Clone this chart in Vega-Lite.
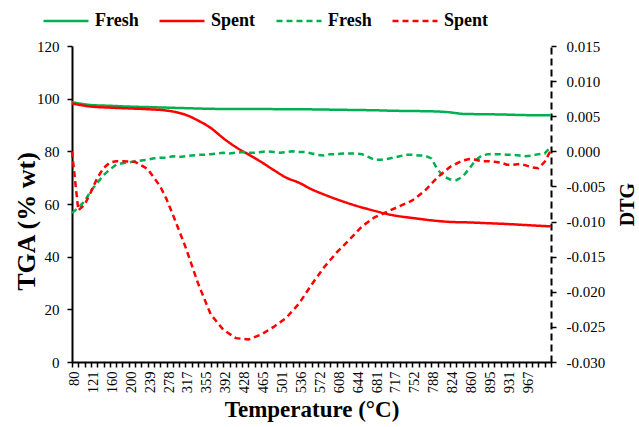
{
  "$schema": "https://vega.github.io/schema/vega-lite/v6.json",
  "autosize": {"type": "none"},
  "padding": {"left": 72, "top": 46, "right": 88, "bottom": 65},
  "width": 479,
  "height": 316,
  "background": "white",
  "config": {
    "view": {"stroke": null},
    "font": "Liberation Serif",
    "axis": {"grid": false, "domainColor": "black", "domainWidth": 2, "tickColor": "black", "tickWidth": 1.5, "tickSize": 5, "labelFont": "Liberation Serif", "labelColor": "black", "titleFont": "Liberation Serif", "titleColor": "black", "titleFontWeight": "bold", "titleFontSize": 22, "labelFontSize": 15}
  },
  "data": {"values": [
    {"s":"TGA Fresh","c":0,"v":98.7},{"s":"TGA Fresh","c":3,"v":97.6},{"s":"TGA Fresh","c":6,"v":97.3},{"s":"TGA Fresh","c":9,"v":97.0},{"s":"TGA Fresh","c":12,"v":96.8},{"s":"TGA Fresh","c":15,"v":96.6},{"s":"TGA Fresh","c":18,"v":96.4},{"s":"TGA Fresh","c":21,"v":96.2},{"s":"TGA Fresh","c":24,"v":96.1},{"s":"TGA Fresh","c":27,"v":96.1},{"s":"TGA Fresh","c":30,"v":96.1},{"s":"TGA Fresh","c":33,"v":96.0},{"s":"TGA Fresh","c":36,"v":96.0},{"s":"TGA Fresh","c":39,"v":95.9},{"s":"TGA Fresh","c":42,"v":95.8},{"s":"TGA Fresh","c":45,"v":95.7},{"s":"TGA Fresh","c":48,"v":95.6},{"s":"TGA Fresh","c":51,"v":95.4},{"s":"TGA Fresh","c":54,"v":95.3},{"s":"TGA Fresh","c":57,"v":95.2},{"s":"TGA Fresh","c":59,"v":95.0},{"s":"TGA Fresh","c":60,"v":94.8},{"s":"TGA Fresh","c":61,"v":94.5},{"s":"TGA Fresh","c":62,"v":94.2},{"s":"TGA Fresh","c":65,"v":94.1},{"s":"TGA Fresh","c":68,"v":94.0},{"s":"TGA Fresh","c":71,"v":93.8},{"s":"TGA Fresh","c":74,"v":93.7},{"s":"TGA Fresh","c":76,"v":93.7},
    {"s":"TGA Spent","c":0,"v":98.2},{"s":"TGA Spent","c":3,"v":97.0},{"s":"TGA Spent","c":6,"v":96.6},{"s":"TGA Spent","c":9,"v":96.3},{"s":"TGA Spent","c":12,"v":96.0},{"s":"TGA Spent","c":15,"v":95.5},{"s":"TGA Spent","c":17,"v":94.6},{"s":"TGA Spent","c":18,"v":93.9},{"s":"TGA Spent","c":20,"v":91.7},{"s":"TGA Spent","c":22,"v":88.9},{"s":"TGA Spent","c":24,"v":85.0},{"s":"TGA Spent","c":26,"v":81.6},{"s":"TGA Spent","c":28,"v":78.8},{"s":"TGA Spent","c":30,"v":76.0},{"s":"TGA Spent","c":32,"v":72.9},{"s":"TGA Spent","c":34,"v":70.0},{"s":"TGA Spent","c":36,"v":68.1},{"s":"TGA Spent","c":38,"v":65.6},{"s":"TGA Spent","c":40,"v":63.6},{"s":"TGA Spent","c":42,"v":61.8},{"s":"TGA Spent","c":45,"v":59.4},{"s":"TGA Spent","c":48,"v":57.4},{"s":"TGA Spent","c":51,"v":55.7},{"s":"TGA Spent","c":54,"v":54.7},{"s":"TGA Spent","c":57,"v":53.8},{"s":"TGA Spent","c":60,"v":53.2},{"s":"TGA Spent","c":63,"v":53.0},{"s":"TGA Spent","c":66,"v":52.7},{"s":"TGA Spent","c":69,"v":52.4},{"s":"TGA Spent","c":72,"v":52.0},{"s":"TGA Spent","c":76,"v":51.5},
    {"s":"DTG Fresh","c":0,"v":-0.0088},{"s":"DTG Fresh","c":1,"v":-0.0080},{"s":"DTG Fresh","c":2,"v":-0.0071},{"s":"DTG Fresh","c":3,"v":-0.0056},{"s":"DTG Fresh","c":4,"v":-0.0045},{"s":"DTG Fresh","c":5,"v":-0.0034},{"s":"DTG Fresh","c":6,"v":-0.0026},{"s":"DTG Fresh","c":7,"v":-0.0019},{"s":"DTG Fresh","c":8,"v":-0.0017},{"s":"DTG Fresh","c":9,"v":-0.0016},{"s":"DTG Fresh","c":10,"v":-0.0014},{"s":"DTG Fresh","c":11,"v":-0.0013},{"s":"DTG Fresh","c":12,"v":-0.0012},{"s":"DTG Fresh","c":13,"v":-0.0010},{"s":"DTG Fresh","c":14,"v":-0.0009},{"s":"DTG Fresh","c":15,"v":-0.0009},{"s":"DTG Fresh","c":16,"v":-0.0007},{"s":"DTG Fresh","c":17,"v":-0.0008},{"s":"DTG Fresh","c":18,"v":-0.0007},{"s":"DTG Fresh","c":19,"v":-0.0006},{"s":"DTG Fresh","c":20,"v":-0.0005},{"s":"DTG Fresh","c":21,"v":-0.0005},{"s":"DTG Fresh","c":22,"v":-0.0004},{"s":"DTG Fresh","c":23,"v":-0.0003},{"s":"DTG Fresh","c":24,"v":-0.0002},{"s":"DTG Fresh","c":25,"v":-0.0003},{"s":"DTG Fresh","c":26,"v":-0.0002},{"s":"DTG Fresh","c":27,"v":-0.0001},{"s":"DTG Fresh","c":28,"v":-0.0002},{"s":"DTG Fresh","c":29,"v":-0.0002},{"s":"DTG Fresh","c":30,"v":-0.0001},{"s":"DTG Fresh","c":31,"v":0.0},{"s":"DTG Fresh","c":32,"v":-0.0001},{"s":"DTG Fresh","c":33,"v":-0.0002},{"s":"DTG Fresh","c":34,"v":-0.0001},{"s":"DTG Fresh","c":35,"v":0.0},{"s":"DTG Fresh","c":36,"v":-0.0001},{"s":"DTG Fresh","c":37,"v":-0.0001},{"s":"DTG Fresh","c":38,"v":-0.0003},{"s":"DTG Fresh","c":39,"v":-0.0005},{"s":"DTG Fresh","c":40,"v":-0.0006},{"s":"DTG Fresh","c":41,"v":-0.0004},{"s":"DTG Fresh","c":42,"v":-0.0004},{"s":"DTG Fresh","c":43,"v":-0.0003},{"s":"DTG Fresh","c":44,"v":-0.0003},{"s":"DTG Fresh","c":45,"v":-0.0003},{"s":"DTG Fresh","c":46,"v":-0.0004},{"s":"DTG Fresh","c":47,"v":-0.0008},{"s":"DTG Fresh","c":48,"v":-0.0012},{"s":"DTG Fresh","c":49,"v":-0.0012},{"s":"DTG Fresh","c":50,"v":-0.0011},{"s":"DTG Fresh","c":51,"v":-0.0009},{"s":"DTG Fresh","c":52,"v":-0.0007},{"s":"DTG Fresh","c":53,"v":-0.0005},{"s":"DTG Fresh","c":54,"v":-0.0005},{"s":"DTG Fresh","c":55,"v":-0.0006},{"s":"DTG Fresh","c":56,"v":-0.0006},{"s":"DTG Fresh","c":57,"v":-0.0010},{"s":"DTG Fresh","c":58,"v":-0.0026},{"s":"DTG Fresh","c":59,"v":-0.0036},{"s":"DTG Fresh","c":60,"v":-0.0040},{"s":"DTG Fresh","c":61,"v":-0.0041},{"s":"DTG Fresh","c":62,"v":-0.0036},{"s":"DTG Fresh","c":63,"v":-0.0025},{"s":"DTG Fresh","c":64,"v":-0.0013},{"s":"DTG Fresh","c":65,"v":-0.0006},{"s":"DTG Fresh","c":66,"v":-0.0004},{"s":"DTG Fresh","c":67,"v":-0.0004},{"s":"DTG Fresh","c":68,"v":-0.0004},{"s":"DTG Fresh","c":69,"v":-0.0005},{"s":"DTG Fresh","c":70,"v":-0.0005},{"s":"DTG Fresh","c":71,"v":-0.0006},{"s":"DTG Fresh","c":72,"v":-0.0007},{"s":"DTG Fresh","c":73,"v":-0.0006},{"s":"DTG Fresh","c":74,"v":-0.0004},{"s":"DTG Fresh","c":75,"v":-0.0003},{"s":"DTG Fresh","c":76,"v":0.0007},
    {"s":"DTG Spent","c":0,"v":0.0},{"s":"DTG Spent","c":1,"v":-0.0084},{"s":"DTG Spent","c":2,"v":-0.0076},{"s":"DTG Spent","c":3,"v":-0.0058},{"s":"DTG Spent","c":4,"v":-0.0038},{"s":"DTG Spent","c":5,"v":-0.0024},{"s":"DTG Spent","c":6,"v":-0.0016},{"s":"DTG Spent","c":7,"v":-0.0014},{"s":"DTG Spent","c":8,"v":-0.0014},{"s":"DTG Spent","c":10,"v":-0.0015},{"s":"DTG Spent","c":12,"v":-0.0025},{"s":"DTG Spent","c":14,"v":-0.0050},{"s":"DTG Spent","c":15,"v":-0.0068},{"s":"DTG Spent","c":16,"v":-0.0090},{"s":"DTG Spent","c":18,"v":-0.0136},{"s":"DTG Spent","c":20,"v":-0.0188},{"s":"DTG Spent","c":22,"v":-0.0232},{"s":"DTG Spent","c":24,"v":-0.0254},{"s":"DTG Spent","c":26,"v":-0.0266},{"s":"DTG Spent","c":28,"v":-0.0268},{"s":"DTG Spent","c":30,"v":-0.0261},{"s":"DTG Spent","c":32,"v":-0.0250},{"s":"DTG Spent","c":34,"v":-0.0237},{"s":"DTG Spent","c":36,"v":-0.0217},{"s":"DTG Spent","c":38,"v":-0.0190},{"s":"DTG Spent","c":40,"v":-0.0165},{"s":"DTG Spent","c":42,"v":-0.0144},{"s":"DTG Spent","c":44,"v":-0.0126},{"s":"DTG Spent","c":46,"v":-0.0107},{"s":"DTG Spent","c":48,"v":-0.0094},{"s":"DTG Spent","c":50,"v":-0.0086},{"s":"DTG Spent","c":52,"v":-0.0078},{"s":"DTG Spent","c":54,"v":-0.0070},{"s":"DTG Spent","c":56,"v":-0.0056},{"s":"DTG Spent","c":58,"v":-0.0037},{"s":"DTG Spent","c":60,"v":-0.0022},{"s":"DTG Spent","c":62,"v":-0.0013},{"s":"DTG Spent","c":63,"v":-0.0011},{"s":"DTG Spent","c":64,"v":-0.0012},{"s":"DTG Spent","c":65,"v":-0.0014},{"s":"DTG Spent","c":66,"v":-0.0014},{"s":"DTG Spent","c":67,"v":-0.0015},{"s":"DTG Spent","c":68,"v":-0.0016},{"s":"DTG Spent","c":69,"v":-0.0019},{"s":"DTG Spent","c":70,"v":-0.0019},{"s":"DTG Spent","c":71,"v":-0.0018},{"s":"DTG Spent","c":72,"v":-0.0020},{"s":"DTG Spent","c":73,"v":-0.0023},{"s":"DTG Spent","c":74,"v":-0.0024},{"s":"DTG Spent","c":75,"v":-0.0015},{"s":"DTG Spent","c":76,"v":0.0002}
  ]},
  "encoding": {
    "x": {"field": "c", "type": "quantitative",
      "scale": {"domain": [0, 76], "nice": false, "zero": false},
      "axis": {
        "title": "Temperature (°C)",
        "titleFontSize": 23,
        "titlePadding": 6,
        "values": [0,1,2,3,4,5,6,7,8,9,10,11,12,13,14,15,16,17,18,19,20,21,22,23,24,25,26,27,28,29,30,31,32,33,34,35,36,37,38,39,40,41,42,43,44,45,46,47,48,49,50,51,52,53,54,55,56,57,58,59,60,61,62,63,64,65,66,67,68,69,70,71,72,73,74,75,76],
        "labelExpr": "(datum.value % 3 == 0 && datum.value <= 72) ? ['80','121','160','200','239','278','317','355','392','428','465','501','536','572','608','644','681','717','752','788','824','860','895','931','967'][datum.value / 3] : ''",
        "labelAngle": 270,
        "labelOffset": 2.5,
        "labelFontSize": 14.5,
        "labelPadding": 4,
        "labelOverlap": false,
        "labelFlush": false,
        "labelBound": false
      }
    },
    "color": {"field": "s", "type": "nominal",
      "scale": {"domain": ["TGA Fresh","TGA Spent","DTG Fresh","DTG Spent"], "range": ["#00B050","#FF0000","#00B050","#FF0000"]},
      "legend": {
        "orient": "none", "legendX": -30, "legendY": -49, "direction": "horizontal", "columns": 4,
        "title": null,
        "symbolType": "stroke", "symbolSize": 2025, "symbolStrokeWidth": 2.5,
        "labelExpr": "split(datum.label, ' ')[1]",
        "labelFont": "Liberation Serif", "labelFontSize": 18, "labelFontWeight": "bold", "labelColor": "black",
        "columnPadding": 15, "labelOffset": 5
      }
    },
    "strokeDash": {"field": "s", "type": "nominal",
      "scale": {"domain": ["TGA Fresh","TGA Spent","DTG Fresh","DTG Spent"], "range": [[1,0],[1,0],[6,4],[6,4]]},
      "legend": null
    }
  },
  "layer": [
    {
      "transform": [{"filter": "indexof(datum.s, 'TGA') == 0"}],
      "mark": {"type": "line", "strokeWidth": 2.5, "interpolate": "monotone"},
      "encoding": {
        "y": {"field": "v", "type": "quantitative",
          "scale": {"domain": [0, 120], "nice": false},
          "axis": {"title": "TGA (% wt)", "orient": "left", "values": [0,20,40,60,80,100,120], "labelPadding": 8,
            "titleFontSize": 26, "titleX": -46, "titleY": 175, "titleAngle": 270, "titleBaseline": "middle", "titleAlign": "center"}
        }
      }
    },
    {
      "transform": [{"filter": "indexof(datum.s, 'DTG') == 0"}],
      "mark": {"type": "line", "strokeWidth": 2.5},
      "encoding": {
        "y": {"field": "v", "type": "quantitative",
          "scale": {"domain": [-0.03, 0.015], "nice": false, "zero": false},
          "axis": {"title": "DTG", "orient": "right", "values": [-0.03,-0.025,-0.02,-0.015,-0.01,-0.005,0,0.005,0.01,0.015],
            "labelExpr": "(datum.value < -0.0000001 ? '-' : '') + format(abs(datum.value), '.3f')",
            "domainDash": [7, 4], "labelPadding": 10,
            "titleFontSize": 20, "titleX": 76, "titleY": 158, "titleAngle": 270, "titleBaseline": "middle", "titleAlign": "center"}
        }
      }
    }
  ],
  "resolve": {"scale": {"y": "independent"}}
}
